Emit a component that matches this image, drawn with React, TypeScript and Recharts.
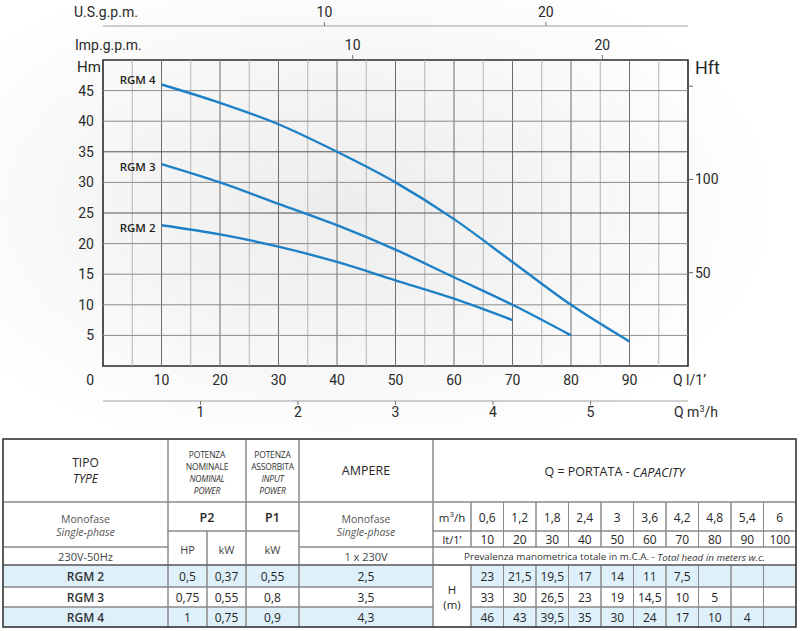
import React from 'react'
import {
  LineChart, Line, XAxis, YAxis, ReferenceLine, ReferenceArea, LabelList, Label,
} from 'recharts'

// flow points (l/min) and matching m3/h, head in metres per model
const FLOW_LPM = [10, 20, 30, 40, 50, 60, 70, 80, 90, 100]
const FLOW_M3H = [0.6, 1.2, 1.8, 2.4, 3, 3.6, 4.2, 4.8, 5.4, 6]
const HEAD_RGM2 = [23, 21.5, 19.5, 17, 14, 11, 7.5, null, null, null]
const HEAD_RGM3 = [33, 30, 26.5, 23, 19, 14.5, 10, 5, null, null]
const HEAD_RGM4 = [46, 43, 39.5, 35, 30, 24, 17, 10, 4, null]

const MODELS = ['RGM 2', 'RGM 3', 'RGM 4']
const P2_HP = [0.5, 0.75, 1]
const P2_KW = [0.37, 0.55, 0.75]
const P1_KW = [0.55, 0.8, 0.9]
const AMPERE = [2.5, 3.5, 4.3]

const Q_TICKS = [10, 20, 30, 40, 50, 60, 70, 80, 90]
const M3H_TICKS = [1, 2, 3, 4, 5]
const HM_TICKS = [0, 5, 10, 15, 20, 25, 30, 35, 40, 45]
const HFT_TICKS = [50, 100, 150]
const USGPM_TICKS = [10, 20]
const IMPGPM_TICKS = [10, 20]
const GRID_Q = [5, 10, 15, 20, 25, 30, 35, 40, 45, 50, 55, 60, 65, 70, 75, 80, 85, 90, 95]
const GRID_H = [5, 10, 15, 20, 25, 30, 35, 40, 45]

// unit factors of the secondary scales (l/min per unit); the imperial scale is drawn as printed
const LPM_PER_M3H = 100 / 6
const LPM_PER_USGAL = 3.785
const LPM_PER_IMPGAL = 4.268

const SERIES = [
  { key: 'rgm4', name: 'RGM 4', labelDy: 0 },
  { key: 'rgm3', name: 'RGM 3', labelDy: 7 },
  { key: 'rgm2', name: 'RGM 2', labelDy: 7 },
]

const AXIS_FONT = 'Roboto, "DejaVu Sans", sans-serif'
const TABLE_FONT = '"Open Sans", "Noto Sans", sans-serif'
const CURVE = '#1e80c6'
const INK = '#2a2a2a'

const axisText = (x: number, y: number, v: any, anchor = 'middle', size = 14) => (
  <text x={x} y={y} textAnchor={anchor} fontSize={size} fill={INK} fontFamily={AXIS_FONT}>{v}</text>
)

const leftTick = (p: any) =>
  p.payload.value === 0
    ? axisText(p.x - 9, p.y + 19, 0, 'end')
    : axisText(p.x - 9, p.y + 5, p.payload.value, 'end')
const rightTick = (p: any) => (p.payload.value === 150 ? <g /> : axisText(p.x + 2, p.y + 5, p.payload.value, 'start'))
const bottomTick = (p: any) => axisText(p.x, p.y + 19, p.payload.value)
const m3hTick = (p: any) => axisText(p.x, p.y + 12, p.payload.value)
const topTick = (p: any) => axisText(p.x, p.y - 5, p.payload.value)

const cornerLabel = (text: React.ReactNode, dx: (vb: any) => number, dy: number, size = 14) =>
  (props: any) => {
    const vb = props.viewBox
    return (
      <text x={dx(vb)} y={vb.y + dy} fontSize={size} fill={INK} fontFamily={AXIS_FONT}>{text}</text>
    )
  }

function PumpCurves() {
  const rows = FLOW_LPM.map((q, i) => ({ q, rgm2: HEAD_RGM2[i], rgm3: HEAD_RGM3[i], rgm4: HEAD_RGM4[i] }))
  return (
    <LineChart width={800} height={431} data={rows} margin={{ top: 0, right: 0, bottom: 0, left: 0 }}>
      <XAxis xAxisId="qa" type="number" dataKey="q" domain={[0, 100]} ticks={Q_TICKS} interval={0}
        orientation="bottom" height={35} axisLine={false} tickLine={false} tickSize={0} tickMargin={0}
        tick={bottomTick} allowDataOverflow>
        <Label content={cornerLabel('Q  l/1’', (vb) => vb.x + vb.width - 15, 19)} />
      </XAxis>
      <XAxis xAxisId="qb" type="number" dataKey={(d: any) => d.q / LPM_PER_M3H} domain={[0, 6]}
        ticks={M3H_TICKS} interval={0} orientation="bottom" height={30} axisLine={{ stroke: '#a0a0a0' }}
        tickLine={{ stroke: '#777' }} tickSize={4} tickMargin={0} tick={m3hTick} allowDataOverflow>
        <Label content={cornerLabel(<>Q  m<tspan fontSize={9} dy={-5}>3</tspan><tspan dy={5}>/h</tspan></>, (vb) => vb.x + vb.width - 14, 16)} />
      </XAxis>
      <XAxis xAxisId="imp" type="number" dataKey={(d: any) => d.q / LPM_PER_IMPGAL}
        domain={[0, 100 / LPM_PER_IMPGAL]} ticks={IMPGPM_TICKS} interval={0}
        orientation="top" height={34} axisLine={false} tickLine={{ stroke: '#777' }}
        tickSize={5} tickMargin={0} tick={topTick} allowDataOverflow>
        <Label content={cornerLabel('Imp.g.p.m.', (vb) => vb.x - 28, 24)} />
      </XAxis>
      <XAxis xAxisId="us" type="number" dataKey={(d: any) => d.q / LPM_PER_USGAL}
        domain={[0, 100 / LPM_PER_USGAL]} ticks={USGPM_TICKS} interval={0}
        orientation="top" height={26} axisLine={{ stroke: '#a0a0a0' }} tickLine={{ stroke: '#777' }}
        tickSize={4} tickMargin={0} tick={topTick} allowDataOverflow>
        <Label content={cornerLabel('U.S.g.p.m.', (vb) => vb.x - 29, 17)} />
      </XAxis>
      <YAxis yAxisId="h" type="number" domain={[0, 50]} ticks={HM_TICKS} interval={0} width={103}
        axisLine={false} tickLine={false} tickSize={0} tickMargin={0} tick={leftTick} allowDataOverflow>
        <Label content={cornerLabel('Hm', (vb) => vb.x + 77, 12, 15)} />
      </YAxis>
      <YAxis yAxisId="ft" orientation="right" type="number" domain={[0, 50 / 0.3048]} ticks={HFT_TICKS}
        interval={0} width={112} axisLine={false} tickLine={{ stroke: '#666' }} tickSize={5} tickMargin={0}
        tick={rightTick} allowDataOverflow>
        <Label content={cornerLabel('Hft', (vb) => vb.x + 7, 14, 18)} />
      </YAxis>

      {GRID_Q.map((v) => (
        <ReferenceLine key={'gq' + v} xAxisId="qa" yAxisId="h" x={v}
          stroke={v % 10 === 0 ? '#6e6e6e' : '#b4b4b4'} strokeWidth={1} />
      ))}
      {GRID_H.map((v) => (
        <ReferenceLine key={'gh' + v} xAxisId="qa" yAxisId="h" y={v}
          stroke={v === 25 || v === 35 ? '#555' : '#8c8c8c'} strokeWidth={1} />
      ))}
      <ReferenceArea xAxisId="qa" yAxisId="h" x1={0} x2={100} y1={0} y2={50}
        fill="none" fillOpacity={0} stroke="#2a2a2a" strokeWidth={1.6} />

      {SERIES.map((s) => (
        <Line key={s.key} xAxisId="qa" yAxisId="h" dataKey={s.key} type="monotone" stroke={CURVE}
          strokeWidth={2.4} dot={false} activeDot={false} isAnimationActive={false}>
          <LabelList dataKey={s.key} content={(p: any) =>
            p.index === 0 ? (
              <text x={p.x - 6} y={p.y + s.labelDy} textAnchor="end" fontSize={11.5} fontWeight={600}
                fill="#222" fontFamily={TABLE_FONT}>{s.name}</text>
            ) : null} />
        </Line>
      ))}
    </LineChart>
  )
}

const fmt = (v: number) => String(v).replace('.', ',')

function SpecTable() {
  // column and row edges of the table
  const X = [3, 168, 207, 246, 299, 433, 471, 503.5, 536, 568.5, 601, 633.5, 666, 698.5, 731, 763.5, 796]
  const yTop = 439, yHead = 502, yM3 = 531, yLt = 547, yBody = 565
  const BODY = [565, 587, 607, 627]
  const mid = (a: number, b: number) => (a + b) / 2
  const vcols = FLOW_LPM.map((_, i) => [X[6 + i], X[7 + i]])
  const bodyHeads = [HEAD_RGM2, HEAD_RGM3, HEAD_RGM4]

  const cells: number[][] = [
    [3, yTop, 168, yHead], [168, yTop, 246, yHead], [246, yTop, 299, yHead], [299, yTop, 433, yHead], [433, yTop, 796, yHead],
    [3, yHead, 168, yLt], [3, yLt, 168, yBody], [168, yHead, 246, yM3], [168, yM3, 207, yBody], [207, yM3, 246, yBody],
    [246, yHead, 299, yM3], [246, yM3, 299, yBody], [299, yHead, 433, yLt], [299, yLt, 433, yBody],
    [433, yHead, 471, yM3], [433, yM3, 471, yLt], [433, yLt, 796, yBody], [433, yBody, 471, BODY[3]],
  ]
  vcols.forEach(([a, b]) => {
    cells.push([a, yHead, b, yM3], [a, yM3, b, yLt])
    for (let r = 0; r < 3; r++) cells.push([a, BODY[r], b, BODY[r + 1]])
  })
  for (let r = 0; r < 3; r++) {
    for (let c = 0; c < 5; c++) cells.push([X[c], BODY[r], X[c + 1], BODY[r + 1]])
  }

  const T = (x: number, y: number, s: React.ReactNode, o: any = {}) => (
    <text x={x} y={y} textAnchor="middle" dominantBaseline="central" fontSize={o.size || 12}
      fill={o.fill || '#262626'} fontStyle={o.italic ? 'italic' : 'normal'} fontWeight={o.weight || 400}
      letterSpacing={o.ls || 0}>{s}</text>
  )
  const small = { size: 8.5, fill: '#333', ls: -0.2 }
  const grey = { size: 10.5, fill: '#555' }

  return (
    <svg width={800} height={631} style={{ position: 'absolute', left: 0, top: 0 }} fontFamily={TABLE_FONT}>
      {[0, 2].map((r) => (
        <g key={'f' + r} fill="#def0f9">
          <rect x={3} y={BODY[r]} width={430} height={BODY[r + 1] - BODY[r]} />
          <rect x={471} y={BODY[r]} width={325} height={BODY[r + 1] - BODY[r]} />
        </g>
      ))}
      {cells.map(([a, b, c, d], i) => (
        <rect key={i} x={a} y={b} width={c - a} height={d - b} fill="none" stroke="#8a8a8a" strokeWidth={1} />
      ))}
      <line x1={3} x2={796} y1={yBody} y2={yBody} stroke="#555" strokeWidth={1.2} />
      <rect x={3} y={yTop} width={793} height={BODY[3] - yTop} fill="none" stroke="#3a3a3a" strokeWidth={1.5} />

      {T(85.5, 462, 'TIPO', { size: 12 })}
      {T(85.5, 478.5, 'TYPE', { size: 12, italic: true })}
      {T(207, 454, 'POTENZA', small)}
      {T(207, 466, 'NOMINALE', small)}
      {T(207, 478, 'NOMINAL', { ...small, italic: true })}
      {T(207, 490.5, 'POWER', { ...small, italic: true })}
      {T(272.5, 454, 'POTENZA', small)}
      {T(272.5, 466, 'ASSORBITA', small)}
      {T(272.5, 478, 'INPUT', { ...small, italic: true })}
      {T(272.5, 490.5, 'POWER', { ...small, italic: true })}
      {T(366, 470.5, 'AMPERE', { size: 12.5 })}
      {T(614.5, 471.5, <>Q = PORTATA - <tspan fontStyle="italic">CAPACITY</tspan></>, { size: 12.5 })}

      {T(85.5, 518.5, 'Monofase', grey)}
      {T(85.5, 531.5, 'Single-phase', { ...grey, italic: true })}
      {T(85.5, 556.5, '230V-50Hz', { size: 11, fill: '#444' })}
      {T(207, 517, 'P2', { size: 12.5, weight: 600 })}
      {T(272.5, 517, 'P1', { size: 12.5, weight: 600 })}
      {T(187.5, 549, 'HP', { size: 11, fill: '#444' })}
      {T(226.5, 549, 'kW', { size: 11, fill: '#444' })}
      {T(272.5, 549, 'kW', { size: 11, fill: '#444' })}
      {T(366, 518.5, 'Monofase', grey)}
      {T(366, 531.5, 'Single-phase', { ...grey, italic: true })}
      {T(366, 556.5, '1 x 230V', { size: 11, fill: '#444' })}

      {T(452, 517, <>m<tspan fontSize={8} dy={-4}>3</tspan><tspan dy={4}>/h</tspan></>, { size: 11.5 })}
      {T(452, 539.5, 'lt/1’', { size: 11 })}
      {vcols.map(([a, b], i) => (
        <g key={'q' + i}>
          {T(mid(a, b), 517, fmt(FLOW_M3H[i]))}
          {T(mid(a, b), 539.5, FLOW_LPM[i])}
        </g>
      ))}
      {T(614.5, 556.5, <>Prevalenza manometrica totale in m.C.A. - <tspan fontStyle="italic">Total head in meters w.c.</tspan></>, { size: 9.8, fill: '#333' })}

      {T(452, 589, 'H', { size: 11.5 })}
      {T(452, 604, '(m)', { size: 11.5 })}
      {MODELS.map((m, r) => {
        const cy = mid(BODY[r], BODY[r + 1])
        return (
          <g key={m}>
            {T(85.5, cy, m, { weight: 600, fill: '#333' })}
            {T(187.5, cy, fmt(P2_HP[r]))}
            {T(226.5, cy, fmt(P2_KW[r]))}
            {T(272.5, cy, fmt(P1_KW[r]))}
            {T(366, cy, fmt(AMPERE[r]))}
            {vcols.map(([a, b], i) => {
              const v = bodyHeads[r][i]
              return v == null ? null : <g key={i}>{T(mid(a, b), cy, fmt(v))}</g>
            })}
          </g>
        )
      })}
    </svg>
  )
}

export default function App() {
  return (
    <div style={{ position: 'absolute', left: 0, top: 0, width: 800, height: 631, background: '#fff', overflow: 'hidden' }}>
      <div style={{
        position: 'absolute', left: 0, top: 0, width: 800, height: 431,
        background: 'radial-gradient(ellipse 55% 60% at 42% 48%, #ededed 0%, #f4f4f4 45%, #ffffff 100%)',
      }}>
        <PumpCurves />
      </div>
      <SpecTable />
    </div>
  )
}
